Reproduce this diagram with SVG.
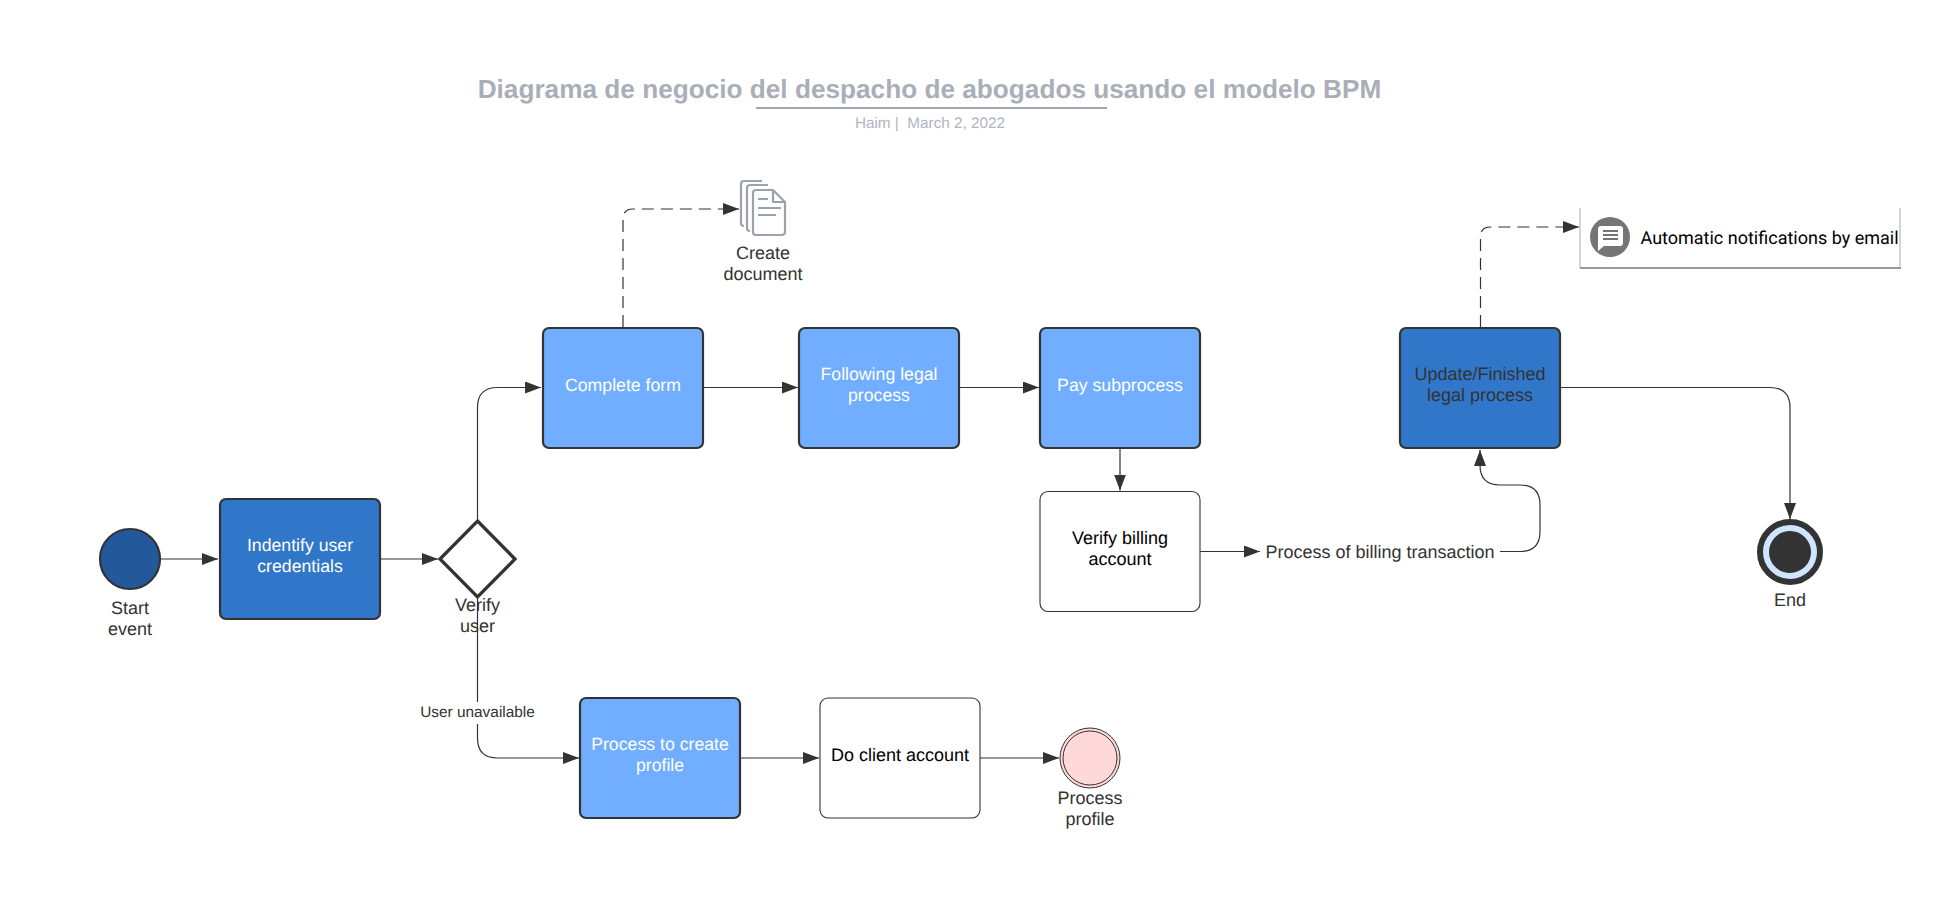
<svg xmlns="http://www.w3.org/2000/svg" width="1951" height="913" viewBox="0 0 1951 913">
<style>
text{font-family:"Liberation Sans",Arial,sans-serif;font-size:18px;fill:#333;text-anchor:middle;text-rendering:geometricPrecision}
.w{fill:#fff;font-size:17.700px}.k{fill:#000}
.dark{fill:#3077c9;stroke:#333;stroke-width:2.2}
.light{fill:#72aeff;stroke:#333;stroke-width:2.2}
.white{fill:#fff;stroke:#333;stroke-width:1.1}
.c{fill:none;stroke:#333;stroke-width:1.2;marker-end:url(#a)}
.n{fill:none;stroke:#333;stroke-width:1.2}
.d{stroke-dasharray:12 7}
.doc{fill:none;stroke:#9ba1ad;stroke-width:2.2;stroke-linejoin:round}
</style>
<defs><marker id="a" markerUnits="userSpaceOnUse" markerWidth="18" markerHeight="14" refX="16" refY="6" orient="auto"><path d="M0 0L16 6L0 12Z" fill="#333"/></marker></defs>
<rect width="1951" height="913" fill="#fff"/>
<g id="title">
<text x="929.500" y="98" style="font-size:26.200px;font-weight:bold;fill:#a9aeb9">Diagrama de negocio del despacho de abogados usando el modelo BPM</text>
<line x1="756" y1="108" x2="1107" y2="108" stroke="#a0a6b3" stroke-width="2"/>
<text x="930" y="128" style="font-size:15.300px;fill:#b0b5bf">Haim |&#160; March 2, 2022</text>
</g>
<g id="connectors">
<path class="c" d="M161 559H218"/>
<path class="c" d="M381 559H438"/>
<path class="c" d="M477.500 521V407.500Q477.500 387.500 497.500 387.500H541"/>
<path class="n" d="M477.500 597V702"/>
<path class="c" d="M477.500 724V738Q477.500 758 497.500 758H579"/>
<path class="c" d="M703 387.500H798"/>
<path class="c" d="M959 387.500H1039"/>
<path class="c" d="M1120 449V490.500"/>
<path class="c d" d="M623 327V219Q623 209 633 209H739"/>
<path class="c" d="M1200 551.500H1260"/>
<path class="c" d="M1500 551.500H1520Q1540 551.500 1540 531.500V505Q1540 485 1520 485H1500Q1480 485 1480 465V450"/>
<path class="c d" d="M1480.500 327V237Q1480.500 227 1490.500 227H1579"/>
<path class="c" d="M1560 387.500H1770Q1790 387.500 1790 407.500V519"/>
<path class="c" d="M740 758H819"/>
<path class="c" d="M980 758H1059"/>
</g>
<g id="start-event"><circle cx="130" cy="559" r="30" fill="#23599b" stroke="#333" stroke-width="2.200"/><text x="130" y="614">Start</text><text x="130" y="635">event</text></g>
<g id="identify"><rect class="dark" x="220" y="499" width="160" height="120" rx="6"/><text class="w" x="300" y="551">Indentify user</text><text class="w" x="300" y="572">credentials</text></g>
<g id="verify-user"><path d="M477.500 521L515 559L477.500 597L440 559Z" fill="#fff" stroke="#333" stroke-width="3.300"/><text x="477.500" y="611">Verify</text><text x="477.500" y="632">user</text></g>
<g id="label-unavailable"><text x="477.500" y="717" style="font-size:15.400px">User unavailable</text></g>
<g id="complete-form"><rect class="light" x="543" y="328" width="160" height="120" rx="6"/><text class="w" x="623" y="391">Complete form</text></g>
<g id="following"><rect class="light" x="799" y="328" width="160" height="120" rx="6"/><text class="w" x="879" y="380">Following legal</text><text class="w" x="879" y="401">process</text></g>
<g id="pay"><rect class="light" x="1040" y="328" width="160" height="120" rx="6"/><text class="w" x="1120" y="391">Pay subprocess</text></g>
<g id="create-document">
<path class="doc" d="M744 226Q741 226 741 223V184Q741 181 744 181H762"/>
<path class="doc" d="M750 231Q747 231 747 228V188Q747 185 750 185H768"/>
<path class="doc" d="M756 190H773L785 202V232Q785 235 782 235H756Q753 235 753 232V193Q753 190 756 190ZM773 190V202H785M758 199H768M758 208H781M758 215H776"/>
<text x="763" y="259">Create</text><text x="763" y="280">document</text></g>
<g id="verify-billing"><rect class="white" x="1040" y="491.500" width="160" height="120" rx="8"/><text class="k" x="1120" y="544">Verify billing</text><text class="k" x="1120" y="565">account</text></g>
<g id="label-billing"><text x="1380" y="558">Process of billing transaction</text></g>
<g id="update"><rect class="dark" x="1400" y="328" width="160" height="120" rx="6"/><text x="1480" y="380">Update/Finished</text><text x="1480" y="401">legal process</text></g>
<g id="notification">
<path d="M1580 208V268H1900V208" fill="#fff" stroke="#aaa" stroke-width="1"/>
<line x1="1580" y1="268" x2="1901" y2="268" stroke="#999" stroke-width="2"/>
<circle cx="1610" cy="237" r="20" fill="#757575"/>
<path d="M1601 226H1620Q1623 226 1623 229V243Q1623 246 1620 246H1604L1598 251V229Q1598 226 1601 226Z" fill="#fff"/>
<path d="M1603 231H1618M1603 235H1618M1603 239H1618" stroke="#757575" stroke-width="2"/>
<text x="1769.500" y="244" style="font-family:Roboto,sans-serif;font-size:18px;fill:#000">Automatic notifications by email</text>
</g>
<g id="end-event"><circle cx="1790" cy="552" r="30" fill="#333" stroke="#333" stroke-width="6"/><circle cx="1790" cy="552" r="24" fill="#333" stroke="#cfe4ff" stroke-width="6"/><text x="1790" y="606">End</text></g>
<g id="process-create"><rect class="light" x="580" y="698" width="160" height="120" rx="6"/><text class="w" x="660" y="750">Process to create</text><text class="w" x="660" y="771">profile</text></g>
<g id="client-account"><rect class="white" x="820" y="698" width="160" height="120" rx="8"/><text class="k" x="900" y="761">Do client account</text></g>
<g id="process-profile"><circle cx="1090" cy="758" r="30" fill="#ffd9d9" stroke="#333" stroke-width="1"/><circle cx="1090" cy="758" r="27" fill="#ffd9d9" stroke="#333" stroke-width="1"/><text x="1090" y="804">Process</text><text x="1090" y="825">profile</text></g>
</svg>
